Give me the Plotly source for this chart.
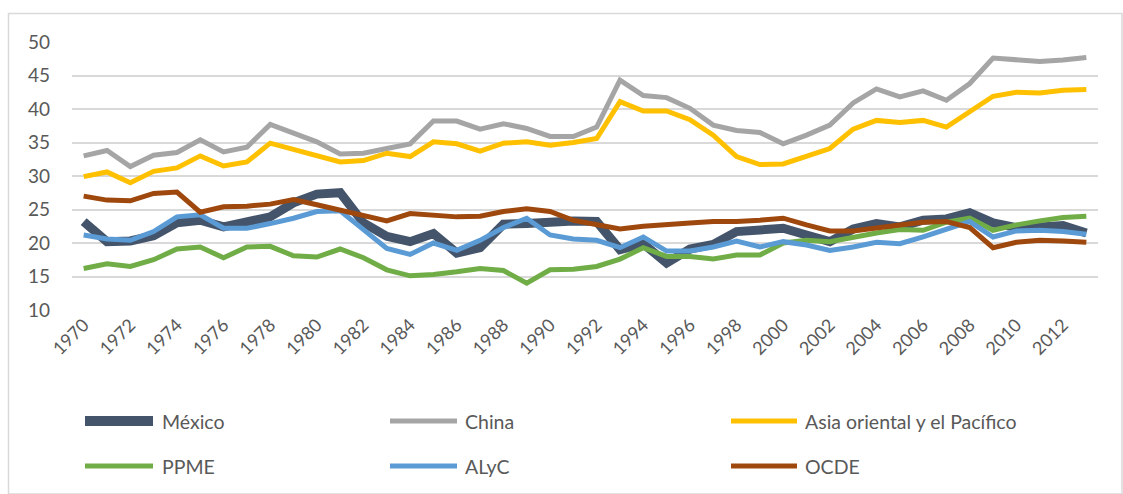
import plotly.graph_objects as go

# Years on the category axis
years = list(range(1970, 2014))

# Series values (percent)
mexico = [23.2, 20.2, 20.3, 21.1, 23.0, 23.4, 22.4, 23.0, 23.9, 26.0, 27.3, 27.5, 23.0, 21.0,
          20.2, 21.4, 18.5, 19.3, 22.8, 22.9, 23.2, 23.3, 23.2, 19.0, 19.9, 17.0, 19.1, 19.8,
          21.7, 22.0, 22.2, 21.2, 20.2, 22.1, 22.9, 22.4, 23.4, 23.6, 24.5, 23.0, 22.3, 22.4,
          22.6, 21.5]
china = [33.0, 33.8, 31.4, 33.1, 33.5, 35.4, 33.6, 34.3, 37.7, 36.3, 35.1, 33.3, 33.4, 34.1,
         34.8, 38.2, 38.2, 37.0, 37.8, 37.1, 35.9, 35.9, 37.3, 44.3, 42.0, 41.7, 40.1, 37.6,
         36.8, 36.5, 34.8, 36.1, 37.6, 40.9, 43.0, 41.8, 42.7, 41.3, 43.8, 47.6, 47.3, 47.1,
         47.3, 47.7]
asia_pacifico = [29.9, 30.6, 29.0, 30.7, 31.2, 33.0, 31.5, 32.1, 34.9, 34.0, 33.1, 32.1, 32.3,
                 33.4, 32.9, 35.1, 34.8, 33.7, 34.9, 35.1, 34.6, 35.0, 35.6, 41.1, 39.7, 39.7,
                 38.4, 36.1, 32.9, 31.7, 31.8, 32.9, 34.1, 37.0, 38.3, 38.0, 38.3, 37.3, 39.6,
                 41.9, 42.5, 42.4, 42.8, 42.9]
ppme = [16.2, 16.9, 16.5, 17.5, 19.1, 19.4, 17.8, 19.4, 19.5, 18.1, 17.9, 19.1, 17.8, 16.0,
        15.1, 15.3, 15.7, 16.2, 15.9, 14.0, 16.0, 16.1, 16.5, 17.6, 19.3, 18.0, 18.0, 17.6,
        18.2, 18.2, 20.0, 20.4, 20.2, 20.9, 21.5, 22.0, 21.9, 23.1, 23.7, 21.9, 22.7, 23.3,
        23.8, 24.0]
alyc = [21.2, 20.6, 20.4, 21.7, 23.9, 24.2, 22.2, 22.2, 22.9, 23.7, 24.7, 24.8, 22.0, 19.2,
        18.3, 20.0, 18.9, 20.4, 22.3, 23.7, 21.2, 20.6, 20.4, 19.3, 20.9, 18.8, 18.8, 19.4,
        20.3, 19.4, 20.2, 19.7, 18.9, 19.4, 20.1, 19.9, 20.9, 22.0, 23.2, 20.9, 21.8, 21.9,
        21.7, 21.3]
ocde = [27.0, 26.4, 26.3, 27.4, 27.6, 24.6, 25.4, 25.5, 25.8, 26.5, 25.7, 24.9, 24.0, 23.3,
        24.4, 24.2, 23.9, 24.0, 24.7, 25.1, 24.7, 23.4, 22.8, 22.1, 22.5, 22.8, 23.0, 23.2,
        23.2, 23.4, 23.7, 22.7, 21.8, 21.8, 22.3, 22.7, 23.1, 23.2, 22.3, 19.3, 20.1, 20.4,
        20.3, 20.1]

series_names = ["México", "China", "Asia oriental y el Pacífico", "PPME", "ALyC", "OCDE"]
series_values = [mexico, china, asia_pacifico, ppme, alyc, ocde]
series_colors = ["#44546A", "#A5A5A5", "#FFC000", "#70AD47", "#5B9BD5", "#9E480E"]
series_widths = [9, 5, 5, 5, 5, 5]

y_ticks = [10, 15, 20, 25, 30, 35, 40, 45, 50]
x_ticks = years[::2]

FONT = "Lato"
TEXT_COLOR = "#595959"
GRID = "#D9D9D9"

fig = go.Figure()
for name, vals, col, w in zip(series_names, series_values, series_colors, series_widths):
    fig.add_trace(go.Scatter(
        x=years, y=vals, name=name, mode="lines",
        line=dict(color=col, width=w),
        showlegend=False,
    ))

# Plot area geometry (px) used for placing the outer frame and legend
W, H = 1123, 494
L, R, T, B = 72, 25, 42, 184
pw, ph = W - L - R, H - T - B


def px_x(px):
    return (px - L) / pw


def px_y(py):
    return (H - B - py) / ph


shapes = [
    dict(type="rect", xref="paper", yref="paper",
         x0=px_x(8.5), x1=px_x(1122), y0=px_y(13.5), y1=px_y(494),
         line=dict(color=GRID, width=1.5), fillcolor="rgba(0,0,0,0)", layer="below"),
]
annotations = []

# Hand-built legend: 3 columns x 2 rows with long line swatches
legend_cols = [(85, 153, 160), (390, 457, 463), (731, 797, 803)]
legend_rows = [421, 466]
for i, (name, col, w) in enumerate(zip(series_names, series_colors, series_widths)):
    row, c = divmod(i, 3)
    x0, x1, xt = legend_cols[c]
    yy = legend_rows[row]
    shapes.append(dict(type="line", xref="paper", yref="paper",
                       x0=px_x(x0), x1=px_x(x1), y0=px_y(yy), y1=px_y(yy),
                       line=dict(color=col, width=(10 if w > 5 else 5))))
    annotations.append(dict(xref="paper", yref="paper", x=px_x(xt), y=px_y(yy),
                            text=name, showarrow=False, xanchor="left", yanchor="middle",
                            font=dict(family=FONT, size=19.5, color=TEXT_COLOR)))

fig.update_layout(
    width=W, height=H,
    margin=dict(l=L, r=R, t=T, b=B, pad=0),
    paper_bgcolor="white", plot_bgcolor="white",
    font=dict(family=FONT, size=19, color=TEXT_COLOR),
    shapes=shapes, annotations=annotations,
    xaxis=dict(range=[1969.5, 2013.5], tickvals=x_ticks, ticktext=[str(y) for y in x_ticks],
               tickangle=-45, showgrid=False, zeroline=False, showline=False,
               ticks="", tickfont=dict(family=FONT, size=18, color=TEXT_COLOR)),
    yaxis=dict(range=[10, 50], tickvals=y_ticks, showgrid=True, gridcolor=GRID, gridwidth=1.5,
               zeroline=False, showline=False, ticks="", ticklabelstandoff=21,
               tickfont=dict(family=FONT, size=19, color=TEXT_COLOR)),
)

fig.write_html("out.html")
